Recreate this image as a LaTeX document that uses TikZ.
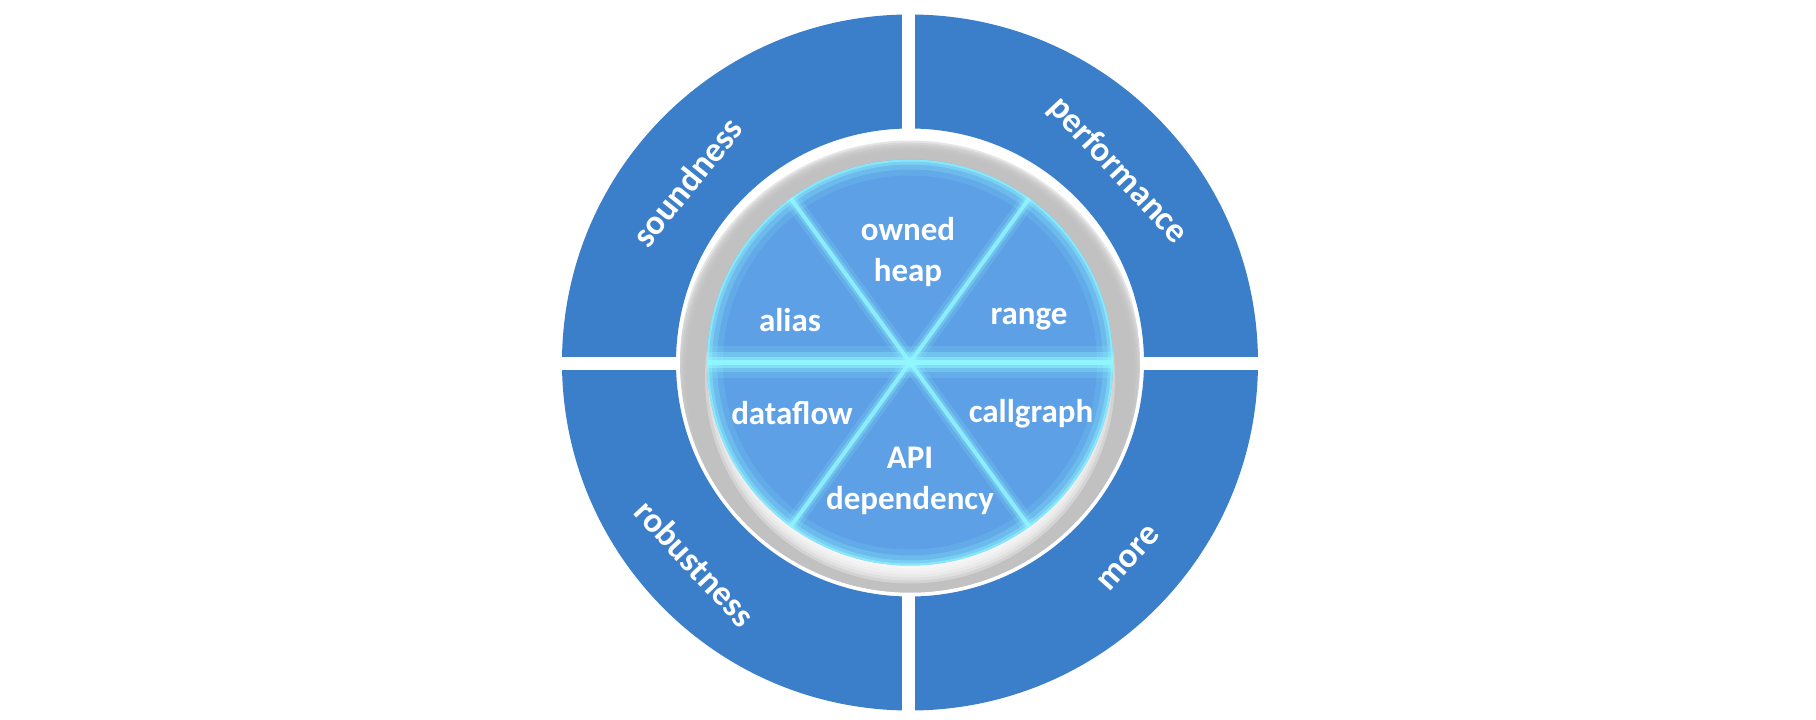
\documentclass[tikz,border=0pt]{standalone}
\usepackage{fontspec}
\setmainfont{Carlito}
\usetikzlibrary{positioning}
\definecolor{ringblue}{HTML}{3B7FCB}
\definecolor{discblue}{HTML}{5DA0E5}
\definecolor{glow}{HTML}{92F8FF}
\colorlet{ringgray}{gray!50}
\tikzset{
  inlabel/.style={text=white,font=\bfseries\fontsize{33}{41}\selectfont,align=center},
  outlabel/.style={text=white,font=\bfseries\fontsize{35}{42}\selectfont}
}
\begin{document}
\begin{tikzpicture}[x=1pt,y=1pt]
        \useasboundingbox (-910,-357.5) rectangle (906,362.5);
        % outer quadrants
        \fill[ringblue,even odd rule] (0,0) circle (348) (0,0) circle (234);
        \draw[white,line width=13] (-360,-1)--(360,-1) (-1,-360)--(-1,360);
        % bevelled ring
        \begin{scope}
          \clip (0,0) circle (230);
          \fill[white] (0,0) circle (230);
          \foreach \k in {0,...,5}{\fill[ringgray,opacity=.4] (0,-12) circle (234-\k*2);}
          \foreach \k in {0,...,5}{\fill[white,opacity=.3] (0,-16) circle (190+\k*3);}
        \end{scope}
        % inner disc
        \fill[discblue] (0,0) circle (203);
        \begin{scope}
          \clip (0,0) circle (203);
          \foreach \w/\o in {32/.12,20/.22,10/.35,4/.6}{\draw[glow,line width=\w,opacity=\o] (0,0) circle (203);}
          \foreach \w/\o in {32/.15,20/.3,11/.5,5/.9}{\draw[glow,line width=\w,opacity=\o] (-205,0)--(205,0);}
          \foreach \a in {54,126,234,306}{
            \foreach \w/\o in {16/.15,9/.3,4/.8}{\draw[glow,line width=\w,opacity=\o] (0,0)--(\a:205);}
          }
        \end{scope}
        % inner labels
        \node[inlabel] (owned) at (-2,110) {owned\\heap};
        \node[inlabel] (alias) at (-120,42) {alias};
        \node[inlabel] (range) at (119,43) {range};
        \node[inlabel] (dataflow) at (-118,-51) {dataflow};
        \node[inlabel] (callgraph) at (121,-51) {callgraph};
        \node[inlabel] (api) at (0,-118) {API\\dependency};
        % outer labels
        \node[outlabel,rotate=51] (sound) at (141:287) {soundness};
        \node[outlabel,rotate=-47] (perf) at (42.7:283) {performance};
        \node[outlabel,rotate=-47] (robust) at (223:294) {robustness};
        \node[outlabel,rotate=48] (more) at (-41.8:294) {more};
      \end{tikzpicture}
\end{document}
